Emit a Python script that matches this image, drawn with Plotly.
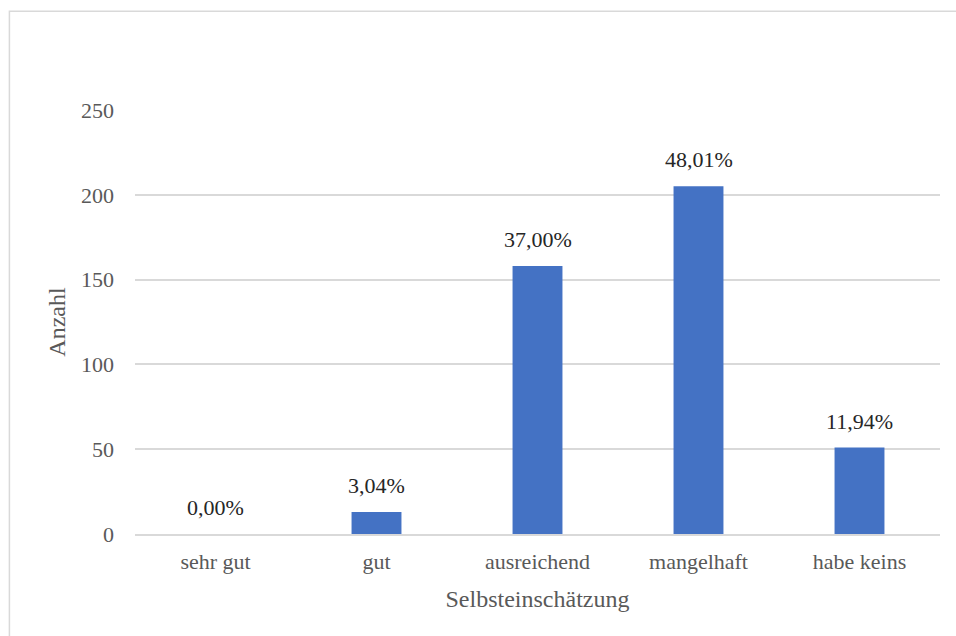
import plotly.graph_objects as go

categories = ["sehr gut", "gut", "ausreichend", "mangelhaft", "habe keins"]
counts = [0, 13, 158, 205, 51]
pct_labels = ["0,00%", "3,04%", "37,00%", "48,01%", "11,94%"]
y_ticks = [0, 50, 100, 150, 200, 250]

FONT = "Liberation Serif"

fig = go.Figure(go.Bar(
    x=categories, y=counts,
    marker=dict(color="#4472C4", line=dict(width=0)),
    cliponaxis=False,
))

annotations = [
    dict(x=c, y=v, text=t, xref="x", yref="y", showarrow=False,
         yanchor="bottom", yshift=12,
         font=dict(family=FONT, size=22, color="#262626"))
    for c, v, t in zip(categories, counts, pct_labels)
]

fig.update_layout(
    width=956, height=636,
    margin=dict(l=135, r=16, t=110, b=102),
    paper_bgcolor="white", plot_bgcolor="white",
    bargap=0.69,
    showlegend=False,
    font=dict(family=FONT, color="#595959"),
    annotations=annotations,
    xaxis=dict(
        showgrid=False, showline=True, linecolor="#D9D9D9", linewidth=1.5,
        tickfont=dict(size=22, color="#595959"), ticks="", ticklabelstandoff=7,
        title=dict(text="Selbsteinschätzung", font=dict(size=24, color="#595959"), standoff=17),
    ),
    yaxis=dict(
        range=[0, 250], tickvals=y_ticks, showgrid=True, gridcolor="#D9D9D9", gridwidth=1.5,
        zeroline=False, showline=False, ticks="", ticklabelstandoff=20,
        tickfont=dict(size=22, color="#595959"),
        title=dict(text="Anzahl", font=dict(size=24, color="#595959"), standoff=8),
    ),
    shapes=[dict(type="rect", xref="paper", yref="paper",
                 x0=-0.156, x1=1.1, y0=-0.35, y1=1.233,
                 line=dict(color="#D9D9D9", width=1.5), fillcolor="rgba(0,0,0,0)", layer="below")],
)

fig.write_html("out.html")
